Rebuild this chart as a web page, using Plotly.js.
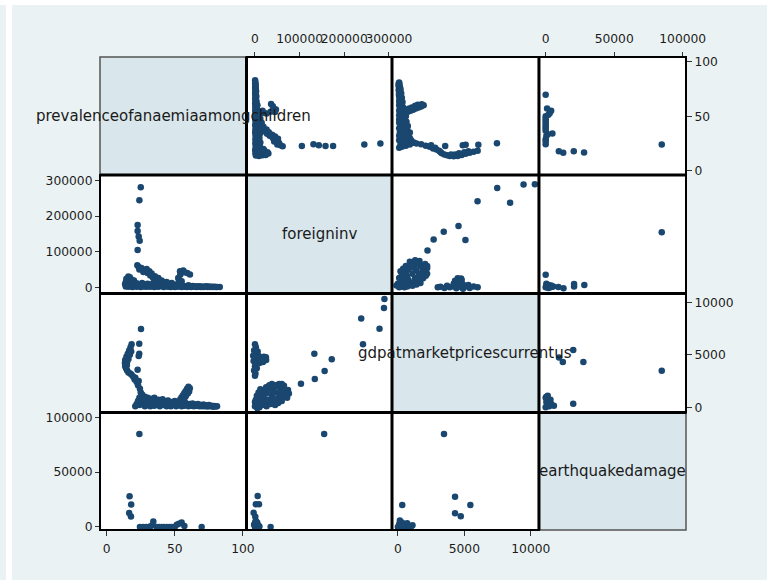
<!DOCTYPE html>
<html><head><meta charset="utf-8">
<script src="https://cdn.plot.ly/plotly-3.0.1.min.js"></script>
<style>
html,body{margin:0;padding:0;background:#fff;width:767px;height:580px;overflow:hidden;}
#strip{position:absolute;left:0;top:5px;width:6px;height:575px;background:#eaf2f3;}
#chart{position:absolute;left:12px;top:5px;width:755px;height:575px;}
</style></head><body>
<div id="strip"></div><div id="chart"></div>
<script>
// Variable names (diagonal labels)
const varNames = ["prevalenceofanaemiaamongchildren","foreigninv","gdpatmarketpricescurrentus","earthquakedamage"];
// Tick values per variable
const ticksAnemia = [0,50,100];
const ticksFdi = [0,100000,200000,300000];
const ticksGdp = [0,5000,10000];
const ticksQuake = [0,50000,100000];

// Pair A: anemia vs foreign investment
const anemiaA = [
25.0,24.0,22.7,22.7,23.5,24.2,22.7,
22.5,23.5,24.0,25.5,26.9,28.0,29.3,31.3,33.0,35.4,37.9,40.3,44.0,47.7,30.0,32.0,34.0,36.0,38.0,42.0,46.0,50.0,
53.8,56.2,59.1,61.1,52.5,55.0,54.0,57.0,53.0,54.5,
14.2,15.9,17.0,14.5,18.5,16.0,13.5,19.5,21.0,20.0,
22,26,30,34,38,42,
14,15,16,17,18,19,20,21,22,23,24,25,26,27,28,29,30,31,32,33,34,35,36,37,38,39,40,41,42,43,44,45,46,47,48,49,50,51,52,53,54,55,56,57,58,59,60,61,62,63,64,65,66,67,68,69,70,71,72,73,74,75,76,77,78,79,80,81,83];
const fdiA = [
281000,245000,175000,158000,143000,131000,105000,
62000,57000,50000,54000,43000,47000,51500,45000,38500,31000,26000,19000,15000,12000,40000,33000,27000,22000,18000,14000,9000,8000,
45000,47000,40000,36000,26000,17000,35000,42000,20000,12000,
17000,30000,28000,24000,21000,12000,9000,14000,9000,19000,
11000,12000,10000,11000,9500,10500,
2000,5000,1000,6000,3000,500,4000,7000,1500,3500,6500,800,4500,2000,7500,1000,3000,5500,1200,8000,2500,500,6000,3000,1000,4500,7000,2000,500,4000,6000,1500,3000,800,5000,2000,500,3500,1000,6000,2500,500,4000,1500,3000,700,5500,2000,500,3500,1200,2500,500,1800,3000,800,2000,500,1500,2500,600,1800,400,1500,800,1200,400,900,300];

// Pair B: anemia vs GDP
const anemiaB = [
25.2,23.9,23.9,23.5,22.7,
18.3,17.5,16.5,15.5,14.5,13.6,13.4,13.6,14.2,15.0,16.0,17.3,18.3,19.5,20.5,22.0,23.0,24.4,25.0,25.7,16.0,15.0,14.8,17.0,18.0,21.0,23.5,
21,22,23,
24,24,25,26,26,27,28,28,29,30,30,31,32,32,33,34,35,35,36,37,38,39,40,41,42,43,44,45,46,47,48,49,50,51,52,53,54,55,56,57,58,60,61,62,63,64,65,66,67,68,69,70,71,72,73,74,75,76,77,78,79,80,81,
54,55,56,57,58,59,60,61,60.5,59.5,58,57,56];
const gdpB = [
7450,6050,5100,4880,3560,
6000,5700,5400,5100,4800,4500,4200,3900,3700,3500,3300,3200,3100,2900,2650,2400,2100,1750,1400,1100,4600,4300,4000,5000,5300,2800,2500,
100,300,600,
200,900,500,1200,300,700,100,1000,500,200,900,600,100,800,400,700,150,900,500,250,700,100,500,750,200,550,100,650,350,100,500,250,600,100,400,200,450,100,350,150,400,100,300,150,350,100,250,150,300,100,200,80,250,100,180,60,200,100,150,50,120,60,100,
760,950,1150,1350,1550,1750,1940,1800,1500,1300,1050,850,650];

// Pair C: anemia vs earthquake damage
const anemiaC = [24.0,16.8,18.0,16.5,17.8,24.4,26.9,29.0,31.8,33.5,34.2,36.7,38.5,40.3,42.0,44.0,46.0,47.7,50.0,51.4,53.0,55.0,57.0,69.7];
const quakeC = [84700,28000,20500,12800,9600,0,0,0,500,1500,4900,0,0,0,0,0,0,0,0,2000,3000,4000,1000,0];

// Pair D: foreign investment vs GDP
const fdiD = [290000,289000,279000,238000,242000,172000,133000,156000,134000,103000,74000,
65000,54000,47000,32000,60000,68000,40000,25000,20000,
0,0,3000,6000,8000,12000,15000,16000,20000,22000,25000,26000,30000,32000,35000,38000,40000,42000,45000,47000,50000,52000,55000,57000,60000,62000,65000,70000,8000,12000,18000,4000,28000,38000,50000,60000,2000,10000,5000,35000,72000,76000,
0,2000,-2000,3000,0,5000,-3000,2000,0,4000,-2000,1000,0,6000,8000,12000,20000,25000,18000,10000,-4000,24500,15800];
const gdpD = [10300,9450,7470,8440,5990,4560,5080,3450,2690,2230,1630,
2050,2200,2100,2100,1700,1400,1800,1900,1600,
100,500,300,900,100,600,1200,200,800,400,1300,100,700,1600,300,1100,600,1900,200,1400,800,400,1200,1800,600,1000,1500,1300,1400,1700,1500,1100,1900,2200,2000,2200,700,0,-100,1600,900,1300,
6000,5700,5400,5100,4800,4600,4400,4200,3900,3700,3500,3200,3000,5300,4900,4700,4800,4500,4300,4200,4900,4750,4400];

// Pair E: foreign investment vs earthquake damage
const fdiE = [155000,6000,2000,9000,-3000,700,35000,0,2000,4000,1000,6000,3000,8000,-2000,5000,0,2000,10000];
const quakeE = [84700,28200,20700,20700,13000,9300,0,0,1000,3000,4500,2000,500,800,2000,4000,3500,5500,500];

// Pair F: GDP vs earthquake damage
const gdpF = [3470,330,4300,5450,4300,4730,0,200,400,600,800,1000,300,100,500,700,900,1100,150];
const quakeF = [84700,20100,27500,20100,12500,9700,0,1000,3000,2000,1000,500,4000,2500,500,3500,0,1500,6000];

const pairs = [
  {i:0, j:1, a:anemiaA, b:fdiA},
  {i:0, j:2, a:anemiaB, b:gdpB},
  {i:0, j:3, a:anemiaC, b:quakeC},
  {i:1, j:2, a:fdiD, b:gdpD},
  {i:1, j:3, a:fdiE, b:quakeE},
  {i:2, j:3, a:gdpF, b:quakeF}
];
pairs.forEach(p => { if (p.a.length !== p.b.length) throw new Error('length mismatch '+p.i+'-'+p.j+': '+p.a.length+' vs '+p.b.length); });

const colB = [0, 0.25, 0.4983, 0.7491, 1];
const rowB = [1, 0.7505, 0.5, 0.2484, 0];
const xRanges = [[-4.9,102.6],[-19000,307000],[-440,10610],[-4900,102400]];
const yRanges = [[-3.9,104.3],[-17650,315700],[-505,10830],[-2750,104400]];
const tickSets = [ticksAnemia, ticksFdi, ticksGdp, ticksQuake];
const xSides = ['bottom','top','bottom','top'];
const ySides = ['right','left','right','left'];

const axName = (p,k) => k===0 ? p : p+(k+1);
const markerStyle = {color:'#1a476f', size:6.5, symbol:'circle', line:{width:0}};

const traces = [];
pairs.forEach(p => {
  traces.push({type:'scatter', mode:'markers', x:p.a, y:p.b, xaxis:axName('x',p.i), yaxis:axName('y',p.j), marker:markerStyle, hoverinfo:'skip', showlegend:false, cliponaxis:true});
  traces.push({type:'scatter', mode:'markers', x:p.b, y:p.a, xaxis:axName('x',p.j), yaxis:axName('y',p.i), marker:markerStyle, hoverinfo:'skip', showlegend:false, cliponaxis:true});
});

const tickFont = {family:'DejaVu Sans', size:12.3, color:'#1a1a1a'};
const layout = {
  width:755, height:575,
  margin:{l:88, r:81, t:52, b:50, pad:0},
  paper_bgcolor:'#eaf2f3',
  plot_bgcolor:'#ffffff',
  showlegend:false,
  shapes:[], annotations:[]
};
for (let k=0;k<4;k++){
  const common = {tickmode:'array', tickvals:tickSets[k], ticktext:tickSets[k].map(String), ticks:'outside', ticklen:5, tickwidth:1, tickcolor:'#333', showgrid:false, zeroline:false, showline:false, tickfont:tickFont, tickangle:0, fixedrange:true, anchor:'free'};
  layout[k===0?'xaxis':'xaxis'+(k+1)] = Object.assign({}, common, {domain:[colB[k],colB[k+1]], range:xRanges[k], side:xSides[k], position: xSides[k]==='bottom'?0:1, ticklabelstandoff: xSides[k]==='top'?4:2});
  layout[k===0?'yaxis':'yaxis'+(k+1)] = Object.assign({}, common, {domain:[rowB[k+1],rowB[k]], range:yRanges[k], side:ySides[k], position: ySides[k]==='left'?0:1});
}
// panels
for (let r=0;r<4;r++){
  for (let c=0;c<4;c++){
    if (r===c){
      layout.shapes.push({type:'rect', xref:'paper', yref:'paper', x0:colB[c], x1:colB[c+1], y0:rowB[r+1], y1:rowB[r], fillcolor:'#d9e6eb', line:{color:'#555', width:1.5}, layer:'below'});
    }
  }
}
for (let r=0;r<4;r++){
  for (let c=0;c<4;c++){
    if (r!==c){
      layout.shapes.push({type:'rect', xref:'paper', yref:'paper', x0:colB[c], x1:colB[c+1], y0:rowB[r+1], y1:rowB[r], fillcolor:'rgba(0,0,0,0)', line:{color:'#000', width:2}, layer:'above'});
    }
  }
}
for (let k=1;k<4;k++){
  layout.shapes.push({type:'line', xref:'paper', yref:'paper', x0:colB[k], x1:colB[k], y0:0, y1:1, line:{color:'#000', width:3}, layer:'above'});
  layout.shapes.push({type:'line', xref:'paper', yref:'paper', x0:0, x1:1, y0:rowB[k], y1:rowB[k], line:{color:'#000', width:3}, layer:'above'});
}
for (let k=0;k<4;k++){
  layout.annotations.push({xref:'paper', yref:'paper', x:(colB[k]+colB[k+1])/2, y:(rowB[k]+rowB[k+1])/2, text:varNames[k], showarrow:false, xanchor:'center', yanchor:'middle', font:{family:'DejaVu Sans', size:15, color:'#1a1a1a'}});
}
Plotly.newPlot('chart', traces, layout, {displayModeBar:false, staticPlot:true});
</script>
</body></html>
